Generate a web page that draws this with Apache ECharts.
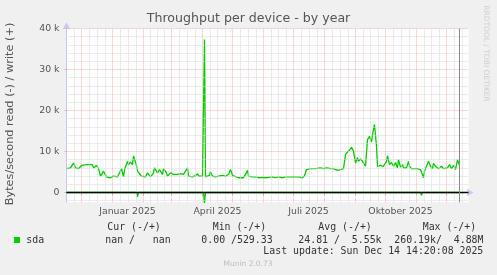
<!DOCTYPE html>
<html><head><meta charset="utf-8">
<script src="https://cdn.jsdelivr.net/npm/echarts@6/dist/echarts.min.js"></script>
<style>html,body{margin:0;padding:0;background:#f0f0f0}#c{width:497px;height:275px}</style>
</head><body><div id="c"></div>
<script>
// ---- data (x = days since the left edge of the graph, 2024-11-16) ----
const DAY = 86400000;
const startUTC = Date.UTC(2024, 10, 16);
const endDays = 402;
const nowDays = 393; // Sun Dec 14 2025
const days = [0,4,7,9,12,15,17,20,22,26,27,30,32,34,36,37,40,44,47,51,53,55,57,58,61,62,64,66,67,70,71,73,75,77,79,81,84,87,88,91,93,96,97,100,101,104,107,109,111,114,117,119,121,122,126,129,131,132,136,137,138,139,141,143,144,146,149,152,156,159,162,164,166,167,172,177,179,181,182,186,189,192,196,199,202,206,209,212,216,219,226,232,236,238,240,244,249,254,257,260,264,267,271,274,277,279,281,285,287,289,291,292,294,296,297,299,301,302,303,305,306,308,310,311,314,317,320,321,323,325,327,329,331,332,334,336,337,340,342,343,345,347,351,354,356,357,358,360,362,364,366,367,369,371,372,375,377,381,383,385,387,389,391,393];
const write = [5800,6000,7200,6000,5800,6600,6300,6800,6400,6800,6000,6600,5800,4000,3800,5200,3800,3600,4000,3800,3800,5800,3800,5600,7600,6800,7400,6800,8900,6600,5200,5600,4000,3800,3800,4800,3800,4800,6000,4800,5600,4400,5800,4800,4000,4800,4400,4600,4400,4600,4400,5200,6000,4000,3800,4100,4600,4000,4000,3800,37300,3800,3800,4200,5000,4000,3800,4000,4200,4000,4400,5600,4200,3800,3600,3600,4400,5400,4000,3800,3800,3600,3700,3600,3700,3800,3600,3800,3600,3800,3800,3800,3600,4100,5600,5800,5800,6000,5800,6000,5800,5800,5400,5600,5800,9300,9800,11000,10100,7200,8500,7600,8200,7600,8000,6400,12900,12500,13700,12300,14100,16600,11300,6400,6600,6400,7600,9000,6800,7300,6400,7300,6000,8000,6200,6800,6000,6000,7600,6400,5800,6000,5800,5600,6000,3600,5200,4800,7600,6400,5800,7100,6400,6600,5800,6400,5800,6000,6800,5800,6600,5600,8000,6600];
const readDays = [0,70,71,72,137,138,139,185,186,187,326,327,328,354,355,356,393];
const read = [0,0,-1050,0,0,-2600,0,0,-300,0,0,-300,0,0,-650,0,0];
const yTicks = [0, 10000, 20000, 30000, 40000];
const yTickLabels = ['0', '10 k', '20 k', '30 k', '40 k'];
const monthNames = ['Januar','Februar','März','April','Mai','Juni','Juli','August','September','Oktober','November','Dezember'];
const labelMonths = [0, 3, 6, 9];
const legendRow = ['sda', 'nan /   nan', '0.00 /529.33', '24.81 /  5.55k', '260.19k/  4.88M'];
const legendHead = ['Cur (-/+)', 'Min (-/+)', 'Avg (-/+)', 'Max (-/+)'];
const lastUpdate = 'Last update: Sun Dec 14 14:20:08 2025';

// ---- axis helpers ----
const months = [];
for (let y = 2024, m = 10; ; m++) {
  if (m > 11) { m = 0; y++; }
  const t = (Date.UTC(y, m, 1) - startUTC) / DAY;
  if (t > endDays) break;
  months.push({ t, y, m, len: (Date.UTC(y, m + 1, 1) - Date.UTC(y, m, 1)) / DAY });
}
const majorX = months.filter(o => o.t > 0 && o.t <= endDays).map(o => o.t);
const minorX = [];
months.forEach(o => { for (let k = 1; k < 4; k++) { const v = o.t + o.len * k / 4; if (v > 0.5 && v < endDays) minorX.push(v); } });
const labelMap = {};
const labelPos = [];
months.filter(o => labelMonths.includes(o.m) && o.t + 15 > 0 && o.t + 15 < endDays).forEach(o => {
  labelPos.push(o.t + 15); labelMap[o.t + 15] = monthNames[o.m] + ' ' + o.y;
});
const minorY = [], majorY = [];
for (let v = -2000; v <= 40000; v += 2000) { if (v === 0) continue; (v % 10000 === 0 ? majorY : minorY).push(v); }

const MAJ = 'rgba(235,110,110,0.5)';
const MIN = '#d9d9d9';
const AX = '#c3cbf3';
const FONT = 'DejaVu Sans';
const MONO = 'DejaVu Sans Mono';

const vline = v => ({ xAxis: v });
const hline = v => ({ yAxis: v });
const gridSeries = (name, data, color, z) => ({
  name, type: 'line', data: [], z, silent: true,
  markLine: { silent: true, symbol: 'none', label: { show: false }, animation: false,
    lineStyle: { color, width: 1, type: [1, 1] }, emphasis: { disabled: true }, data }
});

const chart = echarts.init(document.getElementById('c'), null, { renderer: 'canvas' });
const txt = (text, x, y, font, fill, align, valign, rot) => ({
  type: 'text', x, y, rotation: rot || 0, silent: true,
  style: { text, font, fill, align: align || 'left', verticalAlign: valign || 'middle', textAlign: align || 'left', textVerticalAlign: valign || 'middle' }
});
const legendFont = '9.9px ' + MONO;
chart.setOption({
  animation: false,
  backgroundColor: '#f0f0f0',
  grid: { left: 66.5, right: 28.5, top: 28.5, bottom: 72.66, show: true, backgroundColor: '#ffffff', borderWidth: 0 },
  xAxis: {
    type: 'value', min: 0, max: endDays,
    splitLine: { show: false },
    axisLine: { show: true, symbol: ['none', 'arrow'], symbolSize: [6, 7], symbolOffset: [0, 5], lineStyle: { color: AX, width: 1 } },
    axisTick: { show: true, customValues: majorX, length: 3, lineStyle: { color: MAJ } },
    axisLabel: { customValues: labelPos, formatter: v => labelMap[v] || '', margin: 5, fontSize: 9.33, fontFamily: FONT, color: '#555' }
  },
  yAxis: {
    type: 'value', min: -2400, max: 40000,
    splitLine: { show: false },
    axisLine: { show: true, symbol: ['none', 'arrow'], symbolSize: [6, 7], symbolOffset: [0, 6], lineStyle: { color: AX, width: 1 } },
    axisTick: { show: true, customValues: yTicks, length: 2, lineStyle: { color: MAJ } },
    axisLabel: { customValues: yTicks, formatter: v => yTickLabels[yTicks.indexOf(v)], margin: 7, fontSize: 9.33, fontFamily: FONT, color: '#555' }
  },
  series: [
    gridSeries('minor', minorX.map(vline).concat(minorY.map(hline)), MIN, 1),
    gridSeries('major', majorX.map(vline).concat(majorY.map(hline)), MAJ, 2),
    { name: 'write', type: 'line', z: 3, data: days.map((d, i) => [d, write[i]]), showSymbol: false, symbol: 'none',
      lineStyle: { color: '#00cc00', width: 1.3 }, itemStyle: { color: '#00cc00' }, clip: true, silent: true },
    { name: 'read', type: 'line', z: 3, data: readDays.map((d, i) => [d, read[i]]), showSymbol: false, symbol: 'none',
      lineStyle: { color: '#00cc00', width: 1.3 }, itemStyle: { color: '#00cc00' }, clip: true, silent: true },
    { name: 'rules', type: 'line', data: [], z: 4, silent: true,
      markLine: { silent: true, symbol: 'none', label: { show: false }, animation: false, emphasis: { disabled: true },
        data: [
          { yAxis: 0, lineStyle: { color: '#000000', width: 1.4, type: 'solid' } },
          { xAxis: nowDays, lineStyle: { color: '#8a8a8a', width: 1, type: 'solid' } }
        ] } }
  ],
  graphic: [
    txt('Throughput per device - by year', 248.5, 19, '12.6px ' + FONT, '#555', 'center'),
    txt('Bytes/second read (-) / write (+)', 10.5, 114, '11.3px ' + FONT, '#555', 'center', 'middle', Math.PI / 2),
    txt('RRDTOOL / TOBI OETIKER', 486, 53.5, '7.5px ' + FONT, '#cfcfcf', 'center', 'middle', -Math.PI / 2),
    { type: 'rect', shape: { x: 14, y: 237, width: 6, height: 6 }, style: { fill: '#00cc00' }, silent: true },
    txt(legendRow[0], 26.3, 240, legendFont, '#333'),
    txt(legendHead[0], 107.3, 227.7, legendFont, '#333'),
    txt(legendHead[1], 212.7, 227.7, legendFont, '#333'),
    txt(legendHead[2], 318.3, 227.7, legendFont, '#333'),
    txt(legendHead[3], 422.7, 227.7, legendFont, '#333'),
    txt(legendRow[1], 105.3, 240, legendFont, '#333'),
    txt(legendRow[2], 201.3, 240, legendFont, '#333'),
    txt(legendRow[3], 298.3, 240, legendFont, '#333'),
    txt(legendRow[4], 394.3, 240, legendFont, '#333'),
    txt(lastUpdate, 483.3, 251.7, legendFont, '#333', 'right'),
    txt('Munin 2.0.73', 248, 263.7, '7.5px ' + FONT, '#bdbdbd', 'center')
  ]
});
</script></body></html>
